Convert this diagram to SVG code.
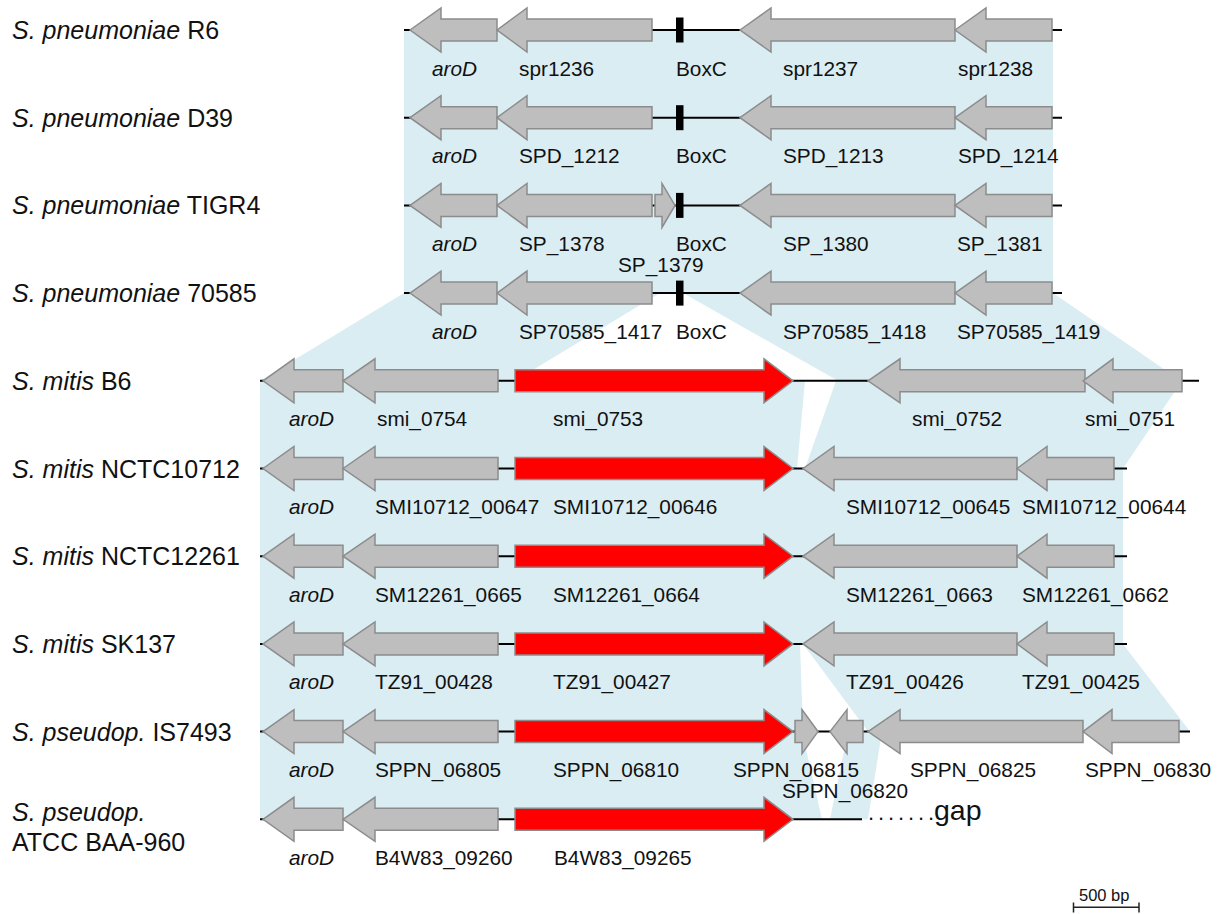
<svg xmlns="http://www.w3.org/2000/svg" width="1223" height="914" viewBox="0 0 1223 914">
<style>
.bl{fill:#daedf3}
.tr{stroke:#000;stroke-width:2;fill:none}
.g{fill:#bebebe;stroke:#8c8c8c;stroke-width:1.5;stroke-linejoin:miter}
.r{fill:#ff0000;stroke:#8c8c8c;stroke-width:1.5}
.bx{fill:#000}
text{font-family:"Liberation Sans",Arial,sans-serif;fill:#111}
.lb{font-size:20.8px}
.sp{font-size:25px}
.it{font-style:italic}
</style>
<rect width="1223" height="914" fill="#fff"/>
<g id="connectors">
<polygon class="bl" points="404,30 1053,30 1053,293.1 404,293.1"/>
<polygon class="bl" points="404,293.1 660,293.1 515,380.8 260,380.8"/>
<polygon class="bl" points="683,293.1 1053,293.1 1181,380.8 838,380.8"/>
<polygon class="bl" points="260,380.8 805,380.8 797,468.5 260,468.5"/>
<polygon class="bl" points="836,380.8 1182,380.8 1123,468.5 805,468.5"/>
<polygon class="bl" points="260,468.5 1123,468.5 1123,643.9 260,643.9"/>
<polygon class="bl" points="260,643.9 800,643.9 803,731.6 260,731.6"/>
<polygon class="bl" points="803,643.9 1123,643.9 1190,731.6 868,731.6"/>
<polygon class="bl" points="260,731.6 802,731.6 822,819.3 260,819.3"/>
<polygon class="bl" points="848,731.6 882,731.6 868,819.3 830,819.3"/>
</g>
<g id="species">
<text class="sp" x="12" y="39"><tspan class="it">S. pneumoniae</tspan> R6</text>
<text class="sp" x="12" y="126.7"><tspan class="it">S. pneumoniae</tspan> D39</text>
<text class="sp" x="12" y="214.4"><tspan class="it">S. pneumoniae</tspan> TIGR4</text>
<text class="sp" x="12" y="302.1"><tspan class="it">S. pneumoniae</tspan> 70585</text>
<text class="sp" x="12" y="389.8"><tspan class="it">S. mitis</tspan> B6</text>
<text class="sp" x="12" y="477.5"><tspan class="it">S. mitis</tspan> NCTC10712</text>
<text class="sp" x="12" y="565.2"><tspan class="it">S. mitis</tspan> NCTC12261</text>
<text class="sp" x="12" y="652.9"><tspan class="it">S. mitis</tspan> SK137</text>
<text class="sp" x="12" y="740.6"><tspan class="it">S. pseudop.</tspan> IS7493</text>
<text class="sp" x="12" y="821"><tspan class="it">S. pseudop.</tspan></text>
<text class="sp" x="12" y="851">ATCC BAA-960</text>
</g>
<g id="row-R6" transform="translate(0,30)">
<path class="tr" d="M404 0H1062"/>
<path id="R6-aroD" class="g" d="M410 0L441 -22V-11H497V11H441V22Z"/>
<path id="R6-spr1236" class="g" d="M497 0L527 -22V-11H652V11H527V22Z"/>
<rect id="R6-BoxC" class="bx" x="676" y="-12.5" width="7.5" height="25"/>
<path id="R6-spr1237" class="g" d="M740 0L771 -22V-11H955V11H771V22Z"/>
<path id="R6-spr1238" class="g" d="M955 0L986 -22V-11H1052V11H986V22Z"/>
<text class="lb it" x="432" y="45.5">aroD</text>
<text class="lb" x="519" y="45.5">spr1236</text>
<text class="lb" x="676" y="45.5">BoxC</text>
<text class="lb" x="783" y="45.5">spr1237</text>
<text class="lb" x="958" y="45.5">spr1238</text>
</g>
<g id="row-D39" transform="translate(0,117.7)">
<path class="tr" d="M404 0H1062"/>
<path id="D39-aroD" class="g" d="M410 0L441 -22V-11H497V11H441V22Z"/>
<path id="D39-SPD_1212" class="g" d="M497 0L527 -22V-11H652V11H527V22Z"/>
<rect id="D39-BoxC" class="bx" x="676" y="-12.5" width="7.5" height="25"/>
<path id="D39-SPD_1213" class="g" d="M740 0L771 -22V-11H955V11H771V22Z"/>
<path id="D39-SPD_1214" class="g" d="M955 0L986 -22V-11H1052V11H986V22Z"/>
<text class="lb it" x="432" y="45.5">aroD</text>
<text class="lb" x="519" y="45.5">SPD_1212</text>
<text class="lb" x="676" y="45.5">BoxC</text>
<text class="lb" x="783" y="45.5">SPD_1213</text>
<text class="lb" x="958" y="45.5">SPD_1214</text>
</g>
<g id="row-TIGR4" transform="translate(0,205.4)">
<path class="tr" d="M404 0H1062"/>
<path id="TIGR4-aroD" class="g" d="M410 0L441 -22V-11H497V11H441V22Z"/>
<path id="TIGR4-SP_1378" class="g" d="M497 0L527 -22V-11H652V11H527V22Z"/>
<path id="TIGR4-SP_1379" class="g" d="M655 -11H662V-22L675 0L662 22V11H655Z"/>
<rect id="TIGR4-BoxC" class="bx" x="676" y="-12.5" width="7.5" height="25"/>
<path id="TIGR4-SP_1380" class="g" d="M740 0L771 -22V-11H955V11H771V22Z"/>
<path id="TIGR4-SP_1381" class="g" d="M955 0L986 -22V-11H1052V11H986V22Z"/>
<text class="lb it" x="432" y="45.5">aroD</text>
<text class="lb" x="519" y="45.5">SP_1378</text>
<text class="lb" x="676" y="45.5">BoxC</text>
<text class="lb" x="618" y="67">SP_1379</text>
<text class="lb" x="783" y="45.5">SP_1380</text>
<text class="lb" x="957" y="45.5">SP_1381</text>
</g>
<g id="row-70585" transform="translate(0,293.1)">
<path class="tr" d="M404 0H1062"/>
<path id="p70585-aroD" class="g" d="M410 0L441 -22V-11H497V11H441V22Z"/>
<path id="SP70585_1417" class="g" d="M497 0L527 -22V-11H652V11H527V22Z"/>
<rect id="p70585-BoxC" class="bx" x="676" y="-12.5" width="7.5" height="25"/>
<path id="SP70585_1418" class="g" d="M740 0L771 -22V-11H955V11H771V22Z"/>
<path id="SP70585_1419" class="g" d="M955 0L986 -22V-11H1052V11H986V22Z"/>
<text class="lb it" x="432" y="45.5">aroD</text>
<text class="lb" x="519" y="45.5">SP70585_1417</text>
<text class="lb" x="676" y="45.5">BoxC</text>
<text class="lb" x="783" y="45.5">SP70585_1418</text>
<text class="lb" x="957" y="45.5">SP70585_1419</text>
</g>
<g id="row-B6" transform="translate(0,380.8)">
<path class="tr" d="M260 0H1199"/>
<path id="B6-aroD" class="g" d="M263 0L294 -22V-11H343V11H294V22Z"/>
<path id="smi_0754" class="g" d="M343 0L375 -22V-11H498V11H375V22Z"/>
<path id="smi_0753" class="r" d="M515 -11H764V-22L793 0L764 22V11H515Z"/>
<path id="smi_0752" class="g" d="M868 0L900 -22V-11H1085V11H900V22Z"/>
<path id="smi_0751" class="g" d="M1083 0L1113 -22V-11H1182V11H1113V22Z"/>
<text class="lb it" x="289" y="45.5">aroD</text>
<text class="lb" x="377" y="45.5">smi_0754</text>
<text class="lb" x="553" y="45.5">smi_0753</text>
<text class="lb" x="912" y="45.5">smi_0752</text>
<text class="lb" x="1085" y="45.5">smi_0751</text>
</g>
<g id="row-NCTC10712" transform="translate(0,468.5)">
<path class="tr" d="M260 0H1127"/>
<path id="N10712-aroD" class="g" d="M263 0L294 -22V-11H343V11H294V22Z"/>
<path id="SMI10712_00647" class="g" d="M343 0L375 -22V-11H498V11H375V22Z"/>
<path id="SMI10712_00646" class="r" d="M515 -11H764V-22L793 0L764 22V11H515Z"/>
<path id="SMI10712_00645" class="g" d="M803 0L834 -22V-11H1017V11H834V22Z"/>
<path id="SMI10712_00644" class="g" d="M1017 0L1047 -22V-11H1114V11H1047V22Z"/>
<text class="lb it" x="289" y="45.5">aroD</text>
<text class="lb" x="375" y="45.5">SMI10712_00647</text>
<text class="lb" x="553" y="45.5">SMI10712_00646</text>
<text class="lb" x="846" y="45.5">SMI10712_00645</text>
<text class="lb" x="1022" y="45.5">SMI10712_00644</text>
</g>
<g id="row-NCTC12261" transform="translate(0,556.2)">
<path class="tr" d="M260 0H1127"/>
<path id="N12261-aroD" class="g" d="M263 0L294 -22V-11H343V11H294V22Z"/>
<path id="SM12261_0665" class="g" d="M343 0L375 -22V-11H498V11H375V22Z"/>
<path id="SM12261_0664" class="r" d="M515 -11H764V-22L793 0L764 22V11H515Z"/>
<path id="SM12261_0663" class="g" d="M803 0L834 -22V-11H1017V11H834V22Z"/>
<path id="SM12261_0662" class="g" d="M1017 0L1047 -22V-11H1114V11H1047V22Z"/>
<text class="lb it" x="289" y="45.5">aroD</text>
<text class="lb" x="375" y="45.5">SM12261_0665</text>
<text class="lb" x="553" y="45.5">SM12261_0664</text>
<text class="lb" x="846" y="45.5">SM12261_0663</text>
<text class="lb" x="1022" y="45.5">SM12261_0662</text>
</g>
<g id="row-SK137" transform="translate(0,643.9)">
<path class="tr" d="M260 0H1127"/>
<path id="SK137-aroD" class="g" d="M263 0L294 -22V-11H343V11H294V22Z"/>
<path id="TZ91_00428" class="g" d="M343 0L375 -22V-11H498V11H375V22Z"/>
<path id="TZ91_00427" class="r" d="M515 -11H764V-22L793 0L764 22V11H515Z"/>
<path id="TZ91_00426" class="g" d="M803 0L834 -22V-11H1017V11H834V22Z"/>
<path id="TZ91_00425" class="g" d="M1017 0L1047 -22V-11H1114V11H1047V22Z"/>
<text class="lb it" x="289" y="45.5">aroD</text>
<text class="lb" x="375" y="45.5">TZ91_00428</text>
<text class="lb" x="553" y="45.5">TZ91_00427</text>
<text class="lb" x="846" y="45.5">TZ91_00426</text>
<text class="lb" x="1022" y="45.5">TZ91_00425</text>
</g>
<g id="row-IS7493" transform="translate(0,731.6)">
<path class="tr" d="M260 0H1190"/>
<path id="IS7493-aroD" class="g" d="M263 0L294 -22V-11H343V11H294V22Z"/>
<path id="SPPN_06805" class="g" d="M343 0L375 -22V-11H498V11H375V22Z"/>
<path id="SPPN_06810" class="r" d="M515 -11H764V-22L793 0L764 22V11H515Z"/>
<path id="SPPN_06815" class="g" d="M795 -11H802V-22L818 0L802 22V11H795Z"/>
<path id="SPPN_06820" class="g" d="M830 0L847 -22V-11H863V11H847V22Z"/>
<path id="SPPN_06825" class="g" d="M868 0L900 -22V-11H1083V11H900V22Z"/>
<path id="SPPN_06830" class="g" d="M1083 0L1112 -22V-11H1179V11H1112V22Z"/>
<text class="lb it" x="289" y="45.5">aroD</text>
<text class="lb" x="375" y="45.5">SPPN_06805</text>
<text class="lb" x="553" y="45.5">SPPN_06810</text>
<text class="lb" x="733" y="45.5">SPPN_06815</text>
<text class="lb" x="782" y="66.5">SPPN_06820</text>
<text class="lb" x="910" y="45.5">SPPN_06825</text>
<text class="lb" x="1085" y="45.5">SPPN_06830</text>
</g>
<g id="row-ATCC" transform="translate(0,819.3)">
<path class="tr" d="M260 0H862"/>
<path id="ATCC-aroD" class="g" d="M263 0L294 -22V-11H343V11H294V22Z"/>
<path id="B4W83_09260" class="g" d="M343 0L375 -22V-11H498V11H375V22Z"/>
<path id="B4W83_09265" class="r" d="M515 -11H764V-22L793 0L764 22V11H515Z"/>
<text x="868" y="0.7" font-size="22" letter-spacing="3.9">.......</text>
<text x="934" y="0.7" font-size="28.5">gap</text>
<text class="lb it" x="289" y="45.5">aroD</text>
<text class="lb" x="375" y="45.5">B4W83_09260</text>
<text class="lb" x="554" y="45.5">B4W83_09265</text>
</g>
<g id="scalebar">
<path d="M1073.5 907.3H1139M1073.5 902.5V912.5M1139 902.5V912.5" stroke="#222" stroke-width="1.5" fill="none"/>
<text x="1079" y="900.5" font-size="16.5">500 bp</text>
</g>
</svg>
